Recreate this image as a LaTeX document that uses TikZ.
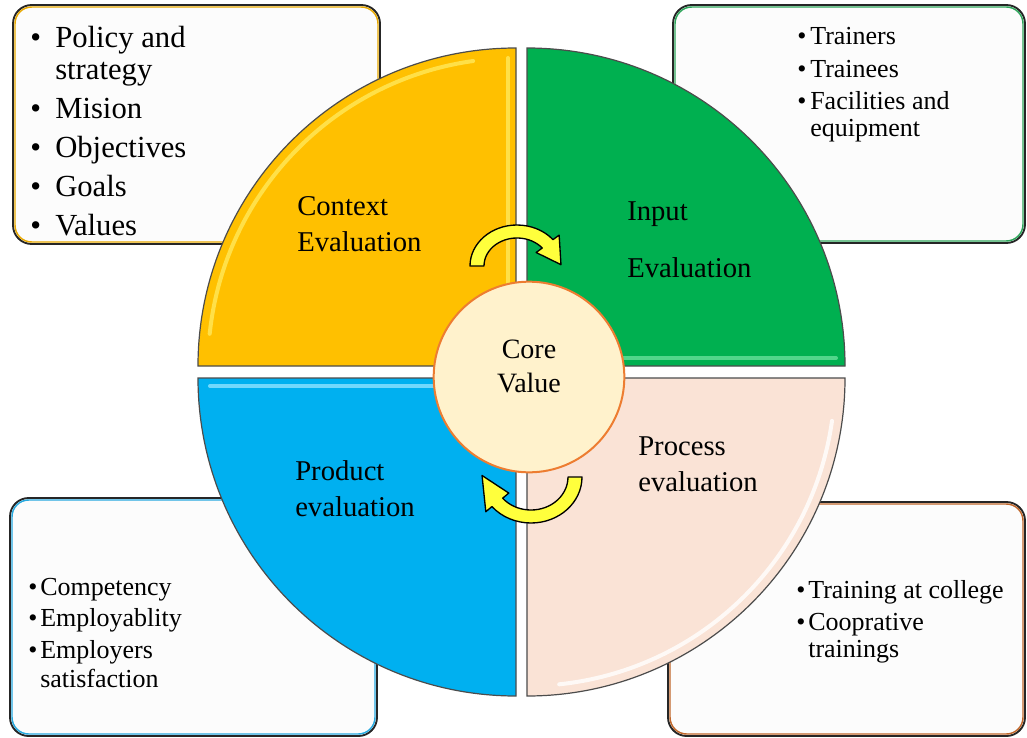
\documentclass[tikz,border=0pt]{standalone}
\usepackage{fontspec}
\setmainfont{Liberation Serif}
\usepackage{tikz}
\usetikzlibrary{calc,positioning}

\definecolor{ctxfill}{HTML}{FFC000}
\definecolor{ctxglow}{HTML}{FFE85A}
\definecolor{ctxrim}{HTML}{E8A800}
\definecolor{inpfill}{HTML}{00B050}
\definecolor{inpglow}{HTML}{66E09A}
\definecolor{inprim}{HTML}{2DA55A}
\definecolor{prdfill}{HTML}{00B0F0}
\definecolor{prdglow}{HTML}{8FE3FF}
\definecolor{prdrim}{HTML}{27A9DF}
\definecolor{prcfill}{HTML}{FAE3D6}
\definecolor{prcglow}{HTML}{FFFFFF}
\definecolor{prcrim}{HTML}{C0662A}
\definecolor{corefill}{HTML}{FFF2CC}
\definecolor{coreline}{HTML}{ED7D31}
\definecolor{arrowyellow}{HTML}{FFFF3C}

% bullet lists with hanging second lines
\newlength\bulletgap
\newcommand\bitem[1]{\par\hangindent=\bulletgap\hangafter=1\noindent\makebox[\bulletgap][l]{\textbullet}#1}
% #1 width, #2 bullet gap, #3 space between items
\newenvironment{blist}[3]{\begin{minipage}[t]{#1}\raggedright\setlength\bulletgap{#2}\setlength\parskip{#3}}{\end{minipage}}

\tikzset{
  sidebox/.style={draw=black!85, line width=1.4pt, fill=white!98!gray, rounded corners=14pt},
  rimline/.style={draw=#1, line width=1.1pt, rounded corners=12.5pt},
  quad/.style={fill=#1, draw=black!70, line width=0.9pt},
  bevel/.style={draw=#1, line width=3pt, line cap=round, opacity=0.8},
  turnarrow/.style={fill=arrowyellow, draw=black, line width=1pt, line join=round},
  corecirc/.style={circle, fill=corefill, draw=coreline, line width=1.5pt, minimum size=143pt, inner sep=0pt},
  qlabel/.style={anchor=base west, inner sep=0pt, text width=130pt, align=left, font=\fontsize{21.5}{27.5}\selectfont},
  itemlist/.style={anchor=base west, inner sep=0pt},
}

\begin{document}
\begin{tikzpicture}[x=0.75pt,y=-0.75pt]
\useasboundingbox (0,0) rectangle (1027,738);

% side boxes
\foreach \xa/\ya/\xb/\yb/\rim in {13/5/380/244/ctxrim, 673/5/1025/243/inprim, 10/498/377/736/prdrim, 668/502/1025/736/prcrim}{
  \draw[sidebox] (\xa,\ya) rectangle (\xb,\yb);
  \draw[rimline=\rim] (\xa+2,\ya+2) rectangle (\xb-2,\yb-2);
}

% quarter discs
\coordinate (ctxc) at (516,366);
\coordinate (inpc) at (527,366);
\coordinate (prdc) at (516,378);
\coordinate (prcc) at (527,378);
\draw[quad=ctxfill] (ctxc) -- ++(-318,0) arc[start angle=180,end angle=270,radius=318] -- cycle;
\draw[quad=inpfill] (inpc) -- ++(0,-318) arc[start angle=270,end angle=360,radius=318] -- cycle;
\draw[quad=prdfill] (prdc) -- ++(0,318) arc[start angle=90,end angle=180,radius=318] -- cycle;
\draw[quad=prcfill] (prcc) -- ++(318,0) arc[start angle=0,end angle=90,radius=318] -- cycle;

% highlights
\draw[bevel=ctxglow] (508,358) -- (508,58);
\draw[bevel=ctxglow] ($(ctxc)+(186:308)$) arc[start angle=186,end angle=262,radius=308];
\draw[bevel=inpglow] (534,358) -- (836,358);
\draw[bevel=prdglow] (210,386) -- (508,386);
\draw[bevel=prcglow] ($(prcc)+(8:308)$) arc[start angle=8,end angle=84,radius=308];

% turning arrows
\coordinate (turnA) at (517,266);
\draw[turnarrow] ($(turnA)+(180:47 and 41)$) arc[start angle=180,end angle=320,x radius=47,y radius=41]
  -- ($(turnA)+(320:55 and 48)$) -- ($(turnA)+(358:44 and 38)$) -- ($(turnA)+(320:25 and 21)$)
  -- ($(turnA)+(320:33 and 28)$) arc[start angle=320,end angle=180,x radius=33,y radius=28] -- cycle;
\coordinate (turnB) at (531,477);
\draw[turnarrow] ($(turnB)+(0:51 and 46)$) arc[start angle=0,end angle=140,x radius=51,y radius=46]
  -- ($(turnB)+(140:59 and 54)$) -- ($(turnB)+(182:49 and 44)$) -- ($(turnB)+(140:29 and 25)$)
  -- ($(turnB)+(140:37 and 33)$) arc[start angle=140,end angle=0,x radius=37,y radius=33] -- cycle;

% centre
\node[corecirc] (core) at (529,377) {};
\node[anchor=base, inner sep=0pt, text width=90pt, align=center, font=\fontsize{21}{26}\selectfont] (corelabel) at (529,358) {Core\\Value};

% quadrant labels
\node[qlabel] (ctxlabel) at (297,215) {Context\\Evaluation};
\node[qlabel] (inplabel) at (627,220) {Input\\[15.5pt]Evaluation};
\node[qlabel] (prclabel) at (638,455) {Process\\evaluation};
\node[qlabel] (prdlabel) at (295,480) {Product\\evaluation};

% lists
\node[itemlist, font=\fontsize{23}{24}\selectfont] (ctxlist) at (30,48)
  {\begin{blist}{260pt}{18.75pt}{5.25pt}
   \bitem{Policy and\newline strategy}\bitem{Mision}\bitem{Objectives}\bitem{Goals}\bitem{Values}
   \end{blist}};
\node[itemlist, font=\fontsize{19.5}{20.25}\selectfont] (inplist) at (797,45)
  {\begin{blist}{200pt}{9.75pt}{4.1pt}
   \bitem{Trainers}\bitem{Trainees}\bitem{Facilities and\newline equipment}
   \end{blist}};
\node[itemlist, font=\fontsize{19.5}{21.75}\selectfont] (prdlist) at (28,595)
  {\begin{blist}{200pt}{9pt}{1.9pt}
   \bitem{Competency}\bitem{Employablity}\bitem{Employers\newline satisfaction}
   \end{blist}};
\node[itemlist, font=\fontsize{19.5}{20.25}\selectfont] (prclist) at (796,598)
  {\begin{blist}{200pt}{9pt}{3.75pt}
   \bitem{Training at college}\bitem{Cooprative\newline trainings}
   \end{blist}};
\end{tikzpicture}
\end{document}
